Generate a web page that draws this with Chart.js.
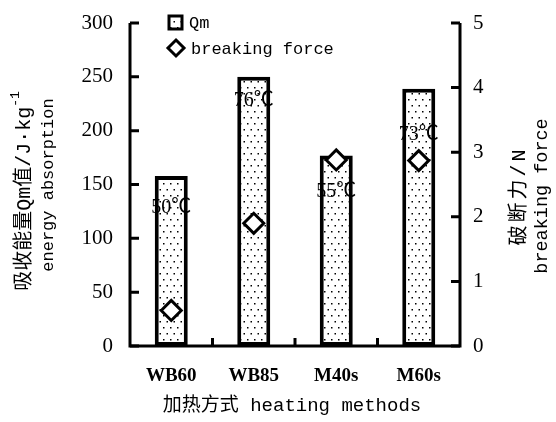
<!DOCTYPE html>
<html>
<head>
<meta charset="utf-8">
<script src="https://cdn.jsdelivr.net/npm/chart.js@4"></script>
<style>
  body { margin: 0; background: #fff; }
</style>
</head>
<body>
<canvas id="chart" width="556" height="422"></canvas>
<script>
const categories = ["WB60", "WB85", "M40s", "M60s"];
const qmValues = [158, 250, 177, 239];
const forceValues = [0.55, 1.9, 2.88, 2.87];
const tempLabels = ["50℃", "76℃", "55℃", "73℃"];
const tempLabelAt = [128, 228, 143, 196];   // on the Qm axis

const MONO = "'Liberation Mono', 'Noto Sans CJK SC', monospace";
const SERIF = "'Liberation Serif', 'Noto Sans CJK SC', serif";
const INK = "#000";

// dotted fill for the bars
const pc = document.createElement("canvas");
pc.width = 7; pc.height = 12;
const pctx = pc.getContext("2d");
pctx.fillStyle = "#fff";
pctx.fillRect(0, 0, 7, 12);
pctx.fillStyle = "#000";
pctx.fillRect(2, 3, 1.5, 1.5);
pctx.fillRect(5.5, 9, 1.5, 1.5);
const dots = pctx.createPattern(pc, "repeat");

function vText(ctx, s, cx, cy, font) {
  ctx.save();
  ctx.translate(cx, cy);
  ctx.rotate(-Math.PI / 2);
  ctx.font = font;
  ctx.textAlign = "center";
  ctx.fillText(s, 0, 0);
  ctx.restore();
}

const decor = {
  id: "decor",
  beforeDatasetsDraw(chart) {
    const ctx = chart.ctx, a = chart.chartArea;
    const x = chart.scales.x, y = chart.scales.y, y1 = chart.scales.y1;
    ctx.save();
    ctx.strokeStyle = INK;
    ctx.lineWidth = 3;
    ctx.beginPath();
    ctx.moveTo(a.left, a.top);
    ctx.lineTo(a.left, a.bottom);
    ctx.lineTo(a.right, a.bottom);
    ctx.lineTo(a.right, a.top);
    ctx.stroke();
    ctx.beginPath();
    y.ticks.forEach(t => {
      const py = y.getPixelForValue(t.value);
      ctx.moveTo(a.left, py); ctx.lineTo(a.left + 9, py);
    });
    y1.ticks.forEach(t => {
      const py = y1.getPixelForValue(t.value);
      ctx.moveTo(a.right, py); ctx.lineTo(a.right - 9, py);
    });
    for (let i = 1; i < categories.length; i++) {
      const px = (x.getPixelForValue(i - 1) + x.getPixelForValue(i)) / 2;
      ctx.moveTo(px, a.bottom); ctx.lineTo(px, a.bottom - 8);
    }
    ctx.stroke();
    ctx.restore();
  },
  afterDatasetsDraw(chart) {
    const ctx = chart.ctx;
    const x = chart.scales.x, y = chart.scales.y;
    ctx.save();
    ctx.fillStyle = INK;
    ctx.textAlign = "center";
    ctx.textBaseline = "middle";
    ctx.font = "20px " + SERIF;
    tempLabels.forEach((s, i) => {
      ctx.fillText(s, x.getPixelForValue(i), y.getPixelForValue(tempLabelAt[i]));
    });

    // legend
    ctx.lineWidth = 3;
    ctx.strokeStyle = INK;
    ctx.fillStyle = dots;
    ctx.fillRect(169, 16, 13, 13);
    ctx.strokeRect(169, 16, 13, 13);
    ctx.fillStyle = "#fff";
    ctx.beginPath();
    ctx.moveTo(176, 40); ctx.lineTo(184, 48); ctx.lineTo(176, 56); ctx.lineTo(168, 48);
    ctx.closePath();
    ctx.fill(); ctx.stroke();
    ctx.fillStyle = INK;
    ctx.textAlign = "left";
    ctx.font = "17px " + MONO;
    ctx.fillText("Qm", 189, 23);
    ctx.fillText("breaking force", 191, 49);

    // x title
    ctx.textAlign = "center";
    ctx.font = "19px " + MONO;
    ctx.fillText("加热方式 heating methods", 292, 406);

    // left titles
    ctx.save();
    ctx.translate(25, 191);
    ctx.rotate(-Math.PI / 2);
    const main = "吸收能量Qm值/J·kg";
    ctx.font = "20px " + MONO;
    const w1 = ctx.measureText(main).width;
    ctx.font = "13px " + MONO;
    const w2 = ctx.measureText("-1").width;
    ctx.textAlign = "left";
    ctx.font = "20px " + MONO;
    ctx.fillText(main, -(w1 + w2) / 2, 0);
    ctx.font = "13px " + MONO;
    ctx.fillText("-1", -(w1 + w2) / 2 + w1, -9);
    ctx.restore();

    vText(ctx, "energy absorption", 48, 185, "17px " + MONO);

    // right titles
    ctx.save();
    ctx.letterSpacing = "3px";
    vText(ctx, "破断力/N", 520, 196, "20px " + MONO);
    ctx.restore();
    vText(ctx, "breaking force", 542, 196, "18.5px " + MONO);

    ctx.restore();
  }
};

const tickFont = { family: SERIF, size: 21 };
const noPad = s => { s.paddingTop = 0; s.paddingBottom = 0; };

new Chart(document.getElementById("chart"), {
  data: {
    labels: categories,
    datasets: [
      {
        type: "line",
        label: "breaking force",
        data: forceValues,
        yAxisID: "y1",
        showLine: false,
        pointStyle: "rectRot",
        pointRadius: 10,
        pointBorderWidth: 3,
        pointBorderColor: INK,
        pointBackgroundColor: "#fff"
      },
      {
        type: "bar",
        label: "Qm",
        data: qmValues,
        yAxisID: "y",
        backgroundColor: dots,
        borderColor: INK,
        borderWidth: 4,
        borderSkipped: false,
        categoryPercentage: 1,
        barPercentage: 0.4
      }
    ]
  },
  options: {
    responsive: false,
    animation: false,
    layout: { padding: { top: 23, left: 0, right: 0, bottom: 0 } },
    plugins: { legend: { display: false }, tooltip: { enabled: false } },
    scales: {
      x: {
        offset: true,
        grid: { display: false, drawTicks: false },
        border: { display: false },
        ticks: { font: { family: SERIF, size: 19, weight: "bold" }, color: INK, padding: 19 },
        afterFit: s => { s.height = 76; s.paddingLeft = 0; s.paddingRight = 0; }
      },
      y: {
        position: "left",
        min: 0, max: 300,
        grid: { display: false, drawTicks: false },
        border: { display: false },
        ticks: { stepSize: 50, font: tickFont, color: INK, padding: 17 },
        afterFit: s => { s.width = 130; noPad(s); }
      },
      y1: {
        position: "right",
        min: 0, max: 5,
        grid: { display: false, drawTicks: false },
        border: { display: false },
        ticks: { stepSize: 1, font: tickFont, color: INK, padding: 13 },
        afterFit: s => { s.width = 96; noPad(s); }
      }
    }
  },
  plugins: [decor]
});
</script>
</body>
</html>
